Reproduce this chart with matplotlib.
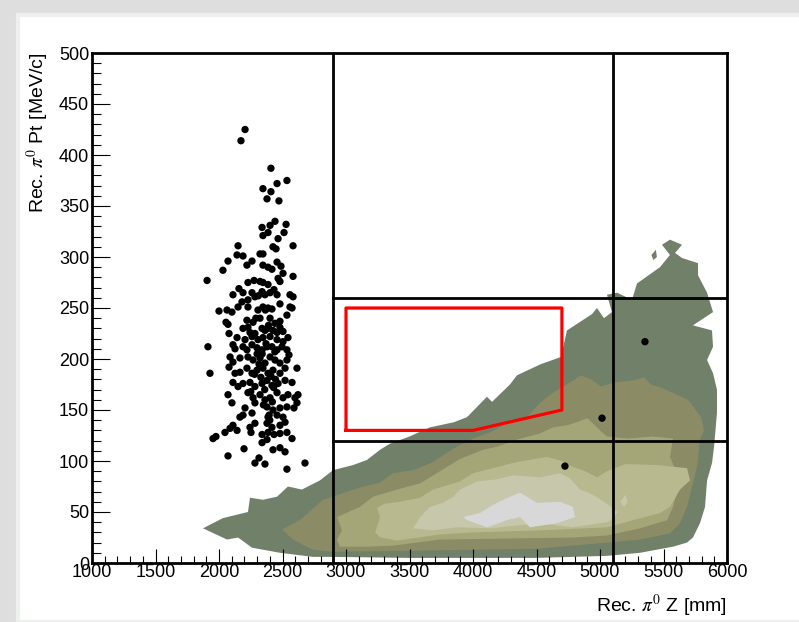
import matplotlib
matplotlib.use("Agg")
import matplotlib.pyplot as plt
from matplotlib.patches import Rectangle, Polygon

plt.rcParams["font.family"] = ["Liberation Sans", "DejaVu Sans"]
plt.rcParams["mathtext.fontset"] = "stix"

# --- data ------------------------------------------------------------------
# selected events: (Z [mm], Pt [MeV/c])
CLUSTER_Z = [2205, 2173, 2409, 2535, 2457, 2346, 2409, 2378, 2472,
             2441, 2402, 2339, 2528, 2512, 2346, 2465, 2386, 2583, 2150,
             2142, 2189, 2323, 2346, 2425, 2449, 2071, 2031, 2220, 2260,
             2346, 2386, 2417, 2457, 2488, 2504, 1906, 2583, 2465, 2480,
             2276, 2323, 2346, 2228, 2157, 2110, 2189, 2386, 2402, 2433,
             2457, 2559, 2583, 2260, 2283, 2339, 2362, 2181, 2228, 2480,
             2559, 2575, 2000, 2063, 2102, 2150, 2228, 2307, 2346, 2386,
             2417, 2535, 2055, 2071, 2220, 2268, 2323, 2402, 2441, 2480,
             2079, 2189, 2228, 2244, 2283, 2339, 2362, 2386, 2425, 2457,
             2480, 2504, 2142, 2205, 2260, 2307, 2346, 2402, 2457, 2504,
             2543, 1913, 2110, 2126, 2189, 2220, 2260, 2299, 2339, 2378,
             2417, 2457, 2496, 2535, 2551, 2087, 2110, 2165, 2228, 2268,
             2323, 2362, 2402, 2441, 2480, 2535, 1929, 2079, 2126, 2165,
             2220, 2260, 2299, 2346, 2386, 2425, 2480, 2520, 2614, 2110,
             2150, 2189, 2244, 2283, 2339, 2378, 2417, 2465, 2520, 2575,
             2071, 2102, 2228, 2268, 2323, 2362, 2402, 2457, 2504, 2543,
             2598, 2622, 2614, 2590, 2205, 2283, 2378, 2425, 2480, 2535,
             2165, 2189, 2260, 2386, 2457, 2504, 2110, 2087, 2047, 2142,
             2244, 2283, 2378, 2417, 2480, 2520, 1976, 1953, 2252, 2339,
             2386, 2433, 2480, 2535, 2575, 2071, 2197, 2283, 2315, 2362,
             2339, 2378, 2425, 2480, 2520, 2535, 2677,
             2300, 2330, 2360, 2410, 2440, 2290, 2350, 2395, 2430, 2315,
             2370, 2420, 2280, 2340, 2390, 2445, 2310, 2365, 2400, 2250]
CLUSTER_PT = [425, 414, 387, 375, 372, 367, 364, 357, 355,
              335, 331, 329, 332, 324, 321, 318, 324, 311, 311,
              302, 301, 303, 303, 310, 308, 296, 287, 292, 296,
              292, 290, 288, 295, 291, 284, 277, 281, 279, 276,
              277, 276, 275, 275, 269, 263, 265, 273, 265, 268,
              263, 263, 261, 265, 261, 266, 263, 256, 258, 254,
              251, 250, 247, 248, 246, 251, 251, 248, 251, 250,
              249, 243, 236, 234, 238, 236, 240, 240, 235, 237,
              225, 230, 231, 226, 225, 230, 228, 230, 228, 226,
              231, 227, 221, 219, 222, 219, 221, 222, 219, 217,
              221, 212, 214, 210, 212, 209, 214, 211, 209, 212,
              212, 209, 212, 209, 204, 202, 197, 201, 202, 199,
              201, 196, 202, 199, 196, 199, 186, 192, 186, 187,
              191, 186, 189, 191, 186, 189, 186, 191, 191, 177,
              173, 176, 177, 173, 176, 179, 174, 176, 179, 177,
              165, 157, 167, 162, 165, 160, 162, 167, 162, 165,
              162, 165, 157, 152, 152, 157, 153, 150, 152, 153,
              143, 145, 147, 143, 145, 143, 135, 132, 128, 130,
              133, 137, 137, 133, 135, 138, 124, 122, 128, 126,
              128, 126, 127, 128, 122, 105, 112, 98, 103, 97,
              118, 121, 111, 113, 109, 92, 98,
              205, 182, 170, 183, 207, 240, 155, 145, 172, 195,
              215, 158, 185, 205, 233, 180, 262, 248, 140, 168]

# events inside the distribution region
EXTRA_Z = [4724, 5016, 5354]
EXTRA_PT = [95, 142, 217]

# selection lines
VLINES_Z = [2900, 5100]
HLINES_PT = [260, 120]

# red selection polygon
CUT_Z = [3000, 3000, 4700, 4700, 4000, 3000]
CUT_PT = [130, 250, 250, 150, 130, 130]

# contour levels of the simulated distribution (outer -> inner)
LEVEL_COLORS = ["#718069", "#8b8c66", "#a5a677", "#b8b98f", "#c6c7ab", "#d8d8d8"]
LEVEL1 = [(1874, 34), (2031, 44), (2228, 50), (2244, 64), (2346, 62), (2457, 65),
          (2543, 75), (2653, 72), (2795, 81), (2898, 91), (3055, 96), (3165, 101),
          (3268, 111), (3346, 117), (3500, 124), (3661, 133), (3850, 138),
          (3953, 143), (4110, 163), (4150, 158), (4291, 175), (4346, 184),
          (4535, 195), (4693, 202), (4740, 228), (4937, 244), (4976, 250),
          (5031, 240), (5094, 246), (5055, 263), (5134, 265), (5252, 258),
          (5291, 274), (5472, 290), (5551, 302), (5488, 312), (5551, 317),
          (5646, 312), (5591, 304), (5646, 299), (5772, 294), (5772, 282),
          (5843, 265), (5890, 246), (5732, 233), (5882, 228), (5890, 212),
          (5843, 199), (5890, 186), (5921, 170), (5921, 147), (5898, 114),
          (5882, 98), (5843, 81), (5827, 55), (5787, 39), (5732, 25), (5685, 20),
          (5575, 16), (5315, 10), (5055, 7), (4500, 5), (3500, 5), (2898, 6),
          (2740, 6), (2480, 10), (2260, 15), (2150, 25), (2063, 23)]
LEVEL1_BLOB = [(5405, 302), (5440, 307), (5448, 300), (5420, 297)]
LEVEL2 = [(2496, 33), (2638, 42), (2819, 62), (2898, 65), (3055, 72), (3268, 79),
          (3370, 88), (3528, 91), (3685, 99), (3843, 112), (4000, 122),
          (4134, 128), (4268, 137), (4425, 143), (4528, 157), (4630, 167),
          (4700, 172), (4850, 184), (4929, 180), (5008, 173), (5110, 177),
          (5268, 179), (5346, 182), (5400, 175), (5480, 172), (5693, 160),
          (5795, 143), (5819, 130), (5787, 121), (5764, 94), (5685, 55),
          (5630, 39), (5551, 29), (5315, 23), (5055, 20), (4500, 14), (3500, 12),
          (2898, 11), (2740, 13), (2583, 23)]
LEVEL3 = [(2929, 23), (2969, 32), (2929, 45), (3110, 55), (3213, 65), (3402, 72),
          (3583, 78), (3740, 90), (3898, 102), (4079, 111), (4189, 114),
          (4346, 121), (4528, 127), (4630, 133), (4740, 135), (4819, 138),
          (4900, 142), (5000, 130), (5055, 124), (5213, 122), (5417, 124),
          (5575, 122), (5551, 104), (5630, 81), (5575, 55), (5528, 42),
          (5315, 34), (5055, 27), (4787, 25), (3740, 23), (3370, 17), (3165, 16),
          (2953, 16)]
LEVEL4 = [(3230, 30), (3268, 45), (3244, 54), (3300, 58), (3420, 60), (3583, 64),
          (3685, 72), (3898, 80), (4000, 88), (4189, 94), (4346, 99), (4583, 104),
          (4700, 100), (4787, 94), (4866, 91), (4976, 84), (5055, 90), (5200, 97),
          (5449, 96), (5685, 93), (5709, 81), (5630, 72), (5551, 55), (5472, 49),
          (5260, 42), (5055, 35), (4528, 32), (4000, 30), (3740, 28), (3402, 22),
          (3268, 25)]
LEVEL5 = [(3528, 34), (3583, 45), (3661, 55), (3764, 59), (3843, 65), (3898, 72),
          (4031, 80), (4189, 82), (4315, 86), (4528, 84), (4685, 88), (4764, 83),
          (4843, 72), (4945, 67), (5055, 58), (5140, 50), (5100, 43), (5055, 40),
          (4787, 35), (4528, 39), (4134, 34), (3874, 35), (3685, 32)]
LEVEL5_BLOB = [(5160, 60), (5200, 67), (5218, 60), (5190, 55)]
LEVEL6 = [(3921, 45), (4055, 49), (4157, 57), (4291, 65), (4370, 69), (4504, 59),
          (4685, 60), (4787, 55), (4803, 45), (4661, 39), (4449, 35), (4370, 45),
          (4268, 42), (4110, 35), (3953, 42)]

# --- figure -----------------------------------------------------------------
fig = plt.figure(figsize=(7.99, 6.22), dpi=100)
fig.patch.set_facecolor("#dedede")
card = Rectangle((18 / 799, 0), 1, 1 - 15 / 622, transform=fig.transFigure,
                 facecolor="white", edgecolor="#eef0ee", lw=3, zorder=-10)
fig.patches.append(card)

ax = fig.add_axes([92 / 799, 59 / 622, 635 / 799, 510 / 622])
ax.set_facecolor("none")

levels = [[LEVEL1, LEVEL1_BLOB], [LEVEL2], [LEVEL3], [LEVEL4], [LEVEL5, LEVEL5_BLOB], [LEVEL6]]
for color, polys in zip(LEVEL_COLORS, levels):
    for poly in polys:
        ax.add_patch(Polygon(poly, closed=True, facecolor=color, edgecolor="none", zorder=1))

for z in VLINES_Z:
    ax.plot([z, z], [0, 500], color="black", lw=2, zorder=3)
for pt in HLINES_PT:
    ax.plot([VLINES_Z[0], 6000], [pt, pt], color="black", lw=2, zorder=3)

ax.plot(CUT_Z, CUT_PT, color="red", lw=2.3, zorder=4)

ax.scatter(CLUSTER_Z, CLUSTER_PT, s=28, color="black", edgecolors="none", zorder=5)
ax.scatter(EXTRA_Z, EXTRA_PT, s=28, color="black", edgecolors="none", zorder=5)

ax.set_xlim(1000, 6000)
ax.set_ylim(0, 500)
ax.set_xticks(range(1000, 6001, 500))
ax.set_xticks(range(1000, 6001, 100), minor=True)
ax.set_yticks(range(0, 501, 50))
ax.set_yticks(range(0, 501, 10), minor=True)
ax.tick_params(axis="x", which="major", direction="in", length=10, width=0.8,
               labelsize=13, pad=1)
ax.tick_params(axis="x", which="minor", direction="in", length=5, width=0.8)
ax.tick_params(axis="y", which="major", direction="in", length=13, width=0.8,
               labelsize=13, pad=2)
ax.tick_params(axis="y", which="minor", direction="in", length=6.5, width=0.8)
for sp in ax.spines.values():
    sp.set_linewidth(2)
    sp.set_zorder(6)

ax.set_xlabel(r"Rec. $\pi^{0}$ Z [mm]", fontsize=14, loc="right")
ax.xaxis.set_label_coords(1.0, -0.058)
ax.set_ylabel(r"Rec. $\pi^{0}$ Pt [MeV/c]", fontsize=14, loc="top")
ax.yaxis.set_label_coords(-0.065, 1.0)

fig.savefig("out.png", dpi=100, facecolor=fig.get_facecolor())
